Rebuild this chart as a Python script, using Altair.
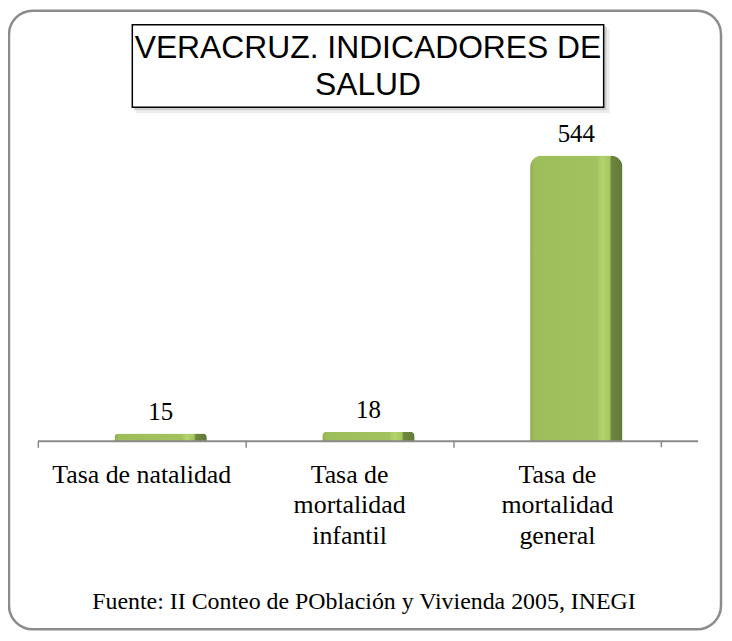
import altair as alt
import pandas as pd

categories = ["Tasa de natalidad", "Tasa de mortalidad infantil", "Tasa de mortalidad general"]
values = [15, 18, 544]
title_lines = ["VERACRUZ. INDICADORES DE", "SALUD"]
source_text = "Fuente: II Conteo de POblación y Vivienda 2005, INEGI"

df = pd.DataFrame({"cat": categories, "val": values})

W, H = 627, 317
one = alt.Data(values=[{}])

xenc = alt.X(
    "cat:N", sort=None,
    scale=alt.Scale(paddingInner=0, paddingOuter=0),
    axis=alt.Axis(
        title=None, labelAngle=0, domain=False, grid=False,
        bandPosition=0, tickSize=6, tickColor="#8a8a8a", tickWidth=1.5,
        labelFont="Liberation Serif", labelFontSize=26, labelColor="#000000",
        labelPadding=14, labelLineHeight=31, labelLimit=0,
        labelExpr="split(replace(replace(datum.label, 'de mortalidad', 'de|mortalidad'), 'mortalidad ', 'mortalidad|'), '|')",
    ),
)
yenc = alt.Y("val:Q", scale=alt.Scale(domain=[0, 600]), axis=None)

grad = alt.Gradient(
    gradient="linear", x1=0, x2=1, y1=0, y2=0,
    stops=[
        alt.GradientStop(color="#8FAE50", offset=0),
        alt.GradientStop(color="#9EBE5C", offset=0.05),
        alt.GradientStop(color="#A2C25F", offset=0.72),
        alt.GradientStop(color="#B4D46C", offset=0.78),
        alt.GradientStop(color="#A6C663", offset=0.86),
        alt.GradientStop(color="#6F873D", offset=0.88),
        alt.GradientStop(color="#62783A", offset=1),
    ],
)

border = alt.Chart(one).mark_rect(
    fillOpacity=0, stroke="#8c8c8c", strokeWidth=2.5, cornerRadius=24
).encode(x=alt.value(-29), x2=alt.value(687), y=alt.value(-116), y2=alt.value(506))

shadow2 = alt.Chart(one).mark_rect(color="#ececec").encode(
    x=alt.value(99), x2=alt.value(575), y=alt.value(-98), y2=alt.value(-13))
shadow1 = alt.Chart(one).mark_rect(color="#cfcfcf").encode(
    x=alt.value(97), x2=alt.value(572), y=alt.value(-100), y2=alt.value(-16))
tbox = alt.Chart(one).mark_rect(
    fill="#ffffff", stroke="#000000", strokeWidth=1.5
).encode(x=alt.value(95), x2=alt.value(569), y=alt.value(-102), y2=alt.value(-19))

ttext = alt.Chart(one).mark_text(
    font="Liberation Sans", fontSize=32, color="#000000",
    align="center", baseline="alphabetic", lineHeight=37,
).encode(x=alt.value(332), y=alt.value(-68), text=alt.value(title_lines))

bars = alt.Chart(df).mark_bar(
    width=93, xOffset=19, color=grad,
    cornerRadiusTopLeft=12, cornerRadiusTopRight=12,
).encode(x=xenc, y=yenc)

labels = alt.Chart(df).mark_text(
    font="Liberation Serif", fontSize=25, color="#000000",
    baseline="alphabetic", dx=19, dy=-14,
).encode(x=alt.X("cat:N", sort=None), y="val:Q", text="val:Q")

domain = alt.Chart(one).mark_rule(color="#8a8a8a", strokeWidth=2).encode(
    x=alt.value(0), x2=alt.value(664), y=alt.value(H))
endtick = alt.Chart(one).mark_rule(color="#8a8a8a", strokeWidth=1.5).encode(
    x=alt.value(W), y=alt.value(H), y2=alt.value(H + 6))

src = alt.Chart(one).mark_text(
    font="Liberation Serif", fontSize=24, color="#000000",
    align="center", baseline="alphabetic",
).encode(x=alt.value(328), y=alt.value(486), text=alt.value(source_text))

chart = alt.layer(
    border, shadow2, shadow1, tbox, ttext, bars, labels, domain, endtick, src
).properties(
    width=W, height=H,
    background="#ffffff",
    padding={"left": 30, "top": 117, "right": 63, "bottom": 191},
    autosize=alt.AutoSizeParams(type="none"),
).configure_view(stroke=None, strokeWidth=0)

chart.save("out.html", embed_options={"renderer": "svg", "actions": False})
